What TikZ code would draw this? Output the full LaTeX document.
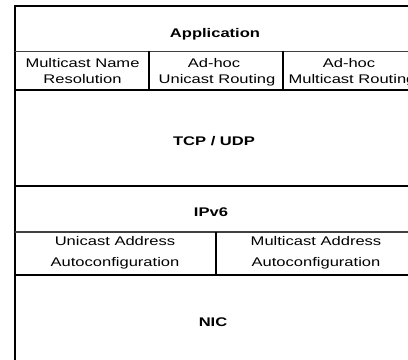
\documentclass[tikz,border=0pt]{standalone}
\usepackage{fontspec}
\setmainfont[FakeStretch=1.32]{Liberation Sans}
\begin{document}
\begin{tikzpicture}[x=0.75pt,y=-0.75pt,
  heavy/.style={line width=1.6pt,black},
  light/.style={line width=0.9pt,black!75},
  divider/.style={line width=0.8pt,black},
  lbl/.style={anchor=base,inner sep=0pt,font=\fontsize{9.4pt}{12pt}\selectfont},
  title/.style={lbl,font=\fontsize{9.4pt}{12pt}\selectfont\bfseries}]
\useasboundingbox (0,0) rectangle (408,360);
\clip (0,0) rectangle (408,360);
% outer frame
\draw[heavy] (15,372) -- (15,6) -- (420,6);
% horizontal separators
\draw[light] (15,51.5) -- (420,51.5);
\draw[heavy] (15,90) -- (420,90);
\draw[heavy] (15,186) -- (420,186);
\draw[light] (15,232) -- (420,232);
\draw[heavy] (15,275) -- (420,275);
% vertical separators
\draw[divider] (149,51.5) -- (149,90);
\draw[divider] (283,51.5) -- (283,90);
\draw[divider] (216,232) -- (216,275);
% texts
\node[title] (app) at (215,38) {Application};
\node[lbl] (mnr1) at (82.5,68) {Multicast Name};
\node[lbl] (mnr2) at (82.5,84) {Resolution};
\node[lbl] (uro1) at (214,68) {Ad-hoc};
\node[lbl] (uro2) at (217,84) {Unicast Routing};
\node[lbl] (mro1) at (349,68) {Ad-hoc};
\node[lbl] (mro2) at (352,84) {Multicast Routing};
\node[title] (tcp) at (214,146) {TCP / UDP};
\node[title] (ip) at (211,217) {IPv6};
\node[lbl] (uaa1) at (115,246) {Unicast Address};
\node[lbl] (uaa2) at (115,267) {Autoconfiguration};
\node[lbl] (maa1) at (316,246) {Multicast Address};
\node[lbl] (maa2) at (316,267) {Autoconfiguration};
\node[title] (nic) at (213,327) {NIC};
\end{tikzpicture}
\end{document}
